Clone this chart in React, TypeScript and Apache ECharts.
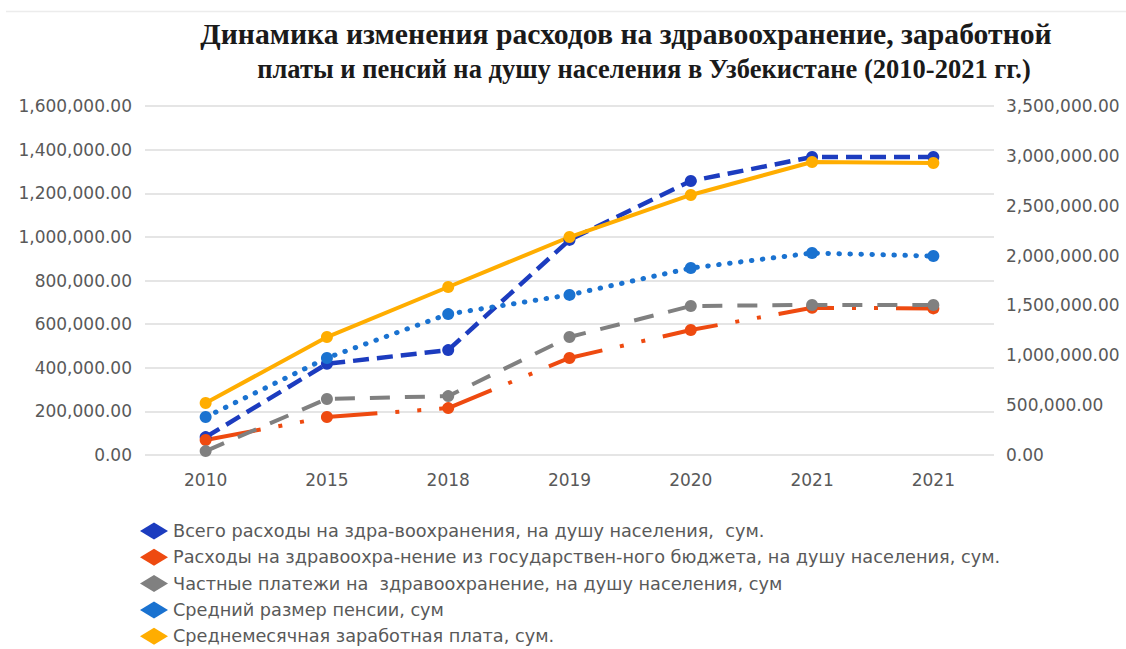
import React, { useEffect, useRef } from "react";
import * as echarts from "echarts";

const years = ["2010", "2015", "2018", "2019", "2020", "2021", "2021"];
const totalHealth = [82000, 418000, 481000, 986000, 1256000, 1366000, 1366000];
const stateBudget = [69000, 174000, 215000, 445000, 573000, 675000, 672000];
const privatePay = [18000, 257000, 270000, 541000, 683000, 688000, 688000];
const pension = [174000, 445000, 646000, 734000, 857000, 926000, 912000];
const wage = [521000, 1183000, 1685000, 2186000, 2608000, 2938000, 2928000];

const seriesNames = [
  "Всего расходы на здра-воохранения, на душу населения,  сум.",
  "Расходы на здравоохра-нение из государствен-ного бюджета, на душу населения, сум.",
  "Частные платежи на  здравоохранение, на душу населения, сум",
  "Средний размер пенсии, сум",
  "Среднемесячная заработная плата, сум.",
];
const titleLines = [
  "Динамика изменения расходов на здравоохранение, заработной",
  "платы и пенсий на душу населения в Узбекистане (2010-2021 гг.)",
];

const fmt = (v: number) =>
  v.toLocaleString("en-US", { minimumFractionDigits: 2, maximumFractionDigits: 2 });

const TITLE_FAMILY = "'Liberation Serif'";
function fitSize(text: string, target: number) {
  const c = document.createElement("canvas").getContext("2d")!;
  c.font = `bold 100px ${TITLE_FAMILY}`;
  const w = c.measureText(text).width;
  return Math.round((100 * target) / w * 10) / 10;
}

export default function App() {
  const ref = useRef<HTMLDivElement>(null);
  useEffect(() => {
    document.body.style.margin = "0";
    const chart = echarts.init(ref.current!, null, { renderer: "svg" });
    const s1 = fitSize(titleLines[0], 852);
    const s2 = fitSize(titleLines[1], 775);
    const labelFont = { fontFamily: "DejaVu Sans", fontSize: 17, color: "#595959" };
    const mk = (name: string, data: number[], color: string, width: number, type: any, yAxisIndex = 0, cap: any = "butt") => ({
      name,
      type: "line",
      data,
      yAxisIndex,
      symbol: "circle",
      symbolSize: 12,
      itemStyle: { color },
      lineStyle: { color, width, type, cap },
      emphasis: { disabled: true },
    });
    chart.setOption({
      animation: false,
      backgroundColor: "#ffffff",
      graphic: [
        { type: "line", shape: { x1: 6, y1: 11.5, x2: 1126, y2: 11.5 }, style: { stroke: "#ececec", lineWidth: 1.5 } },
        {
          type: "text", x: 626, y: 34,
          style: { text: titleLines[0], align: "center", verticalAlign: "middle", font: `bold ${s1}px ${TITLE_FAMILY}`, fill: "#1a1a1a" },
        },
        {
          type: "text", x: 644, y: 69,
          style: { text: titleLines[1], align: "center", verticalAlign: "middle", font: `bold ${s2}px ${TITLE_FAMILY}`, fill: "#1a1a1a" },
        },
      ],
      grid: { left: 145, right: 132, top: 106, bottom: 194, containLabel: false },
      legend: {
        orient: "vertical",
        left: 140,
        top: 522,
        height: 200,
        padding: 0,
        itemWidth: 28,
        itemHeight: 17,
        itemGap: 8.3,
        icon: "diamond",
        textStyle: { fontFamily: "DejaVu Sans", fontSize: 17.7, color: "#595959" },
        data: seriesNames,
      },
      xAxis: {
        type: "category",
        data: years,
        boundaryGap: true,
        axisLine: { show: false },
        axisTick: { show: false },
        axisLabel: { ...labelFont, margin: 16 },
      },
      yAxis: [
        {
          type: "value",
          min: 0,
          max: 1600000,
          interval: 200000,
          axisLine: { show: false },
          axisTick: { show: false },
          splitLine: { lineStyle: { color: "#dcdcdc", width: 1.5 } },
          axisLabel: { ...labelFont, margin: 13, formatter: fmt },
        },
        {
          type: "value",
          min: 0,
          max: 3500000,
          interval: 500000,
          axisLine: { show: false },
          axisTick: { show: false },
          splitLine: { show: false },
          axisLabel: { ...labelFont, margin: 12, formatter: fmt },
        },
      ],
      series: [
        mk(seriesNames[0], totalHealth, "#1c3cbf", 4.5, [16, 8]),
        mk(seriesNames[1], stateBudget, "#ee4a10", 4, [56, 18, 4, 18, 4, 18]),
        mk(seriesNames[2], privatePay, "#808080", 4, [20, 15]),
        mk(seriesNames[3], pension, "#1a72d0", 5, [0.5, 10.5], 0, "round"),
        mk(seriesNames[4], wage, "#ffad00", 4, "solid", 1),
      ],
    });
    return () => chart.dispose();
  }, []);
  return <div ref={ref} style={{ position: "fixed", left: 0, top: 0, width: 1126, height: 649 }} />;
}
